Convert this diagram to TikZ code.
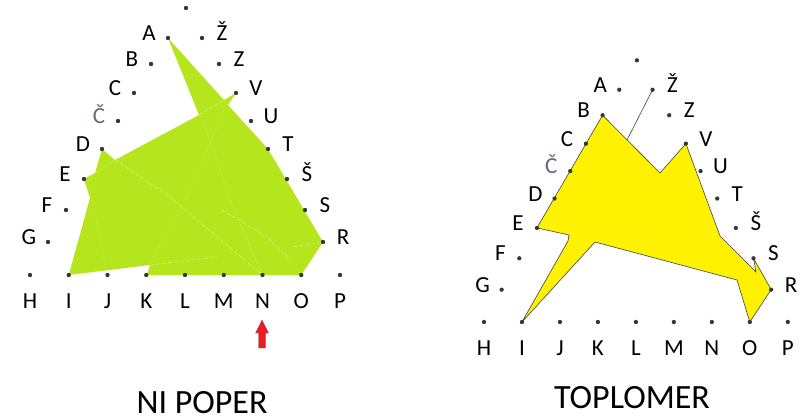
\documentclass[tikz,border=0pt]{standalone}
\usepackage{fontspec}
\setmainfont{Carlito}
\usetikzlibrary{backgrounds}

% one triangle of letters: dots, names and labels
\newcommand{\letterdots}{%
  \coordinate (top) at (156,-267);
  \fill[dot] (top) circle (2.2pt);
  % left side
  \foreach \n/\t/\x/\y in {G/G/18/-33, F/F/36/-65, E/E/54/-96, D/D/72/-126,
      Cc/{\color{lblgray}Č}/88/-154, C/C/104/-182, B/B/121/-211, A/A/138/-237} {
    \coordinate (\n) at (\x,\y);
    \fill[dot] (\n) circle (2.2pt);
    \node[lbl, xshift=-19pt] (\n-lbl) at (\n) {\t};
  }
  % right side
  \foreach \n/\t/\x/\y in {Zz/Ž/172/-237, Z/Z/189/-211, V/V/206/-182, U/U/221/-154,
      T/T/238/-126, Ss/Š/257/-96, S/S/275/-65, R/R/293/-33} {
    \coordinate (\n) at (\x,\y);
    \fill[dot] (\n) circle (2.2pt);
    \node[lbl, xshift=20pt] (\n-lbl) at (\n) {\t};
  }
  % bottom row
  \foreach \n/\x in {H/0, I/38.75, J/77.5, K/116.25, L/155, M/193.75, N/232.5, O/271.25, P/310} {
    \coordinate (\n) at (\x,0);
    \fill[dot] (\n) circle (2.2pt);
    \node[lbl, yshift=-30.5pt] (\n-lbl) at (\n) {\n};
  }
}

\begin{document}
\begin{tikzpicture}[x=1pt, y=-1pt,
    dot/.style={fill=dotgray},
    lbl/.style={font=\fontsize{23}{28}\selectfont, anchor=base, inner sep=0pt, yshift=-2.5pt},
    title/.style={font=\fontsize{34}{40}\selectfont, anchor=base, inner sep=0pt, text depth=0pt},
    seam/.style={white, opacity=0.4, line width=0.6pt, dash pattern=on 4pt off 2pt},
    seamdot/.style={white, opacity=0.4, line width=0.6pt, dotted}]

  % Couleurs
  \definecolor{dotgray}{RGB}{55, 55, 55}
  \definecolor{lblgray}{RGB}{95, 105, 125}
  \definecolor{lime}{RGB}{181, 230, 29}
  \definecolor{sunny}{RGB}{255, 242, 0}
  \definecolor{arrowred}{RGB}{237, 28, 36}

  \useasboundingbox (0,0) rectangle (811,417);

  % Triangles
  \begin{scope}[shift={(30,275)}, name prefix=L-]
    \letterdots
  \end{scope}
  \begin{scope}[shift={(484,322)}, scale=0.98, name prefix=R-]
    \letterdots
  \end{scope}

  % Ni poper
  \begin{scope}[on background layer]
    \fill[lime] (L-A) -- (224,100) -- (L-V) -- (228,105) -- (L-T) -- (L-R) -- (L-O)
      -- (147,275) -- (150,265) -- (L-I) -- (90,198) -- (L-E) -- (95,173) -- (L-D)
      -- (115,160) -- (199,115) -- cycle;
    \draw[seam] (199,115) -- (224,100);
    \draw[seamdot] (199,115) -- (212,145) -- (232,205) -- (L-N);
    \draw[seamdot] (227,104) -- (190,190) -- (178,213) -- (150,265);
    \draw[seam] (95,173) -- (115,160) -- (170,197) -- (L-N);
    \draw[seamdot] (88,180) -- (L-J);
    \draw[seam] (150,265) -- (217,257);
    \draw[seam] (222,210) -- (267,237) -- (290,260);
    \draw[seam] (293,247) -- (L-R);
    \draw[seamdot] (243,230) -- (L-N);
  \end{scope}

  % Toplomer
  \begin{scope}[on background layer]
    \filldraw[fill=sunny, draw=black!75, line width=0.6pt] (R-B) -- (660,173) -- (R-V)
      -- (720,236) -- (756,272) -- (R-S) -- (R-R) -- (R-O) -- (737,280) -- (595,242)
      -- (R-I) -- (568,241) -- (569,235) -- (R-E) -- cycle;
    \coordinate (tick) at (627,140);
    \draw[black!75, line width=0.6pt] (tick) -- (R-Zz);
  \end{scope}

  % Puscica pod N
  \filldraw[fill=arrowred, draw=black!60, line width=0.4pt] (262,320) -- (268.5,333)
    -- (265.5,333) -- (265.5,348) -- (258.5,348) -- (258.5,333) -- (255.5,333) -- cycle;

  \node[title] (nipoper) at (202,413) {NI POPER};
  \node[title] (toplomer) at (632,408) {TOPLOMER};

\end{tikzpicture}
\end{document}
